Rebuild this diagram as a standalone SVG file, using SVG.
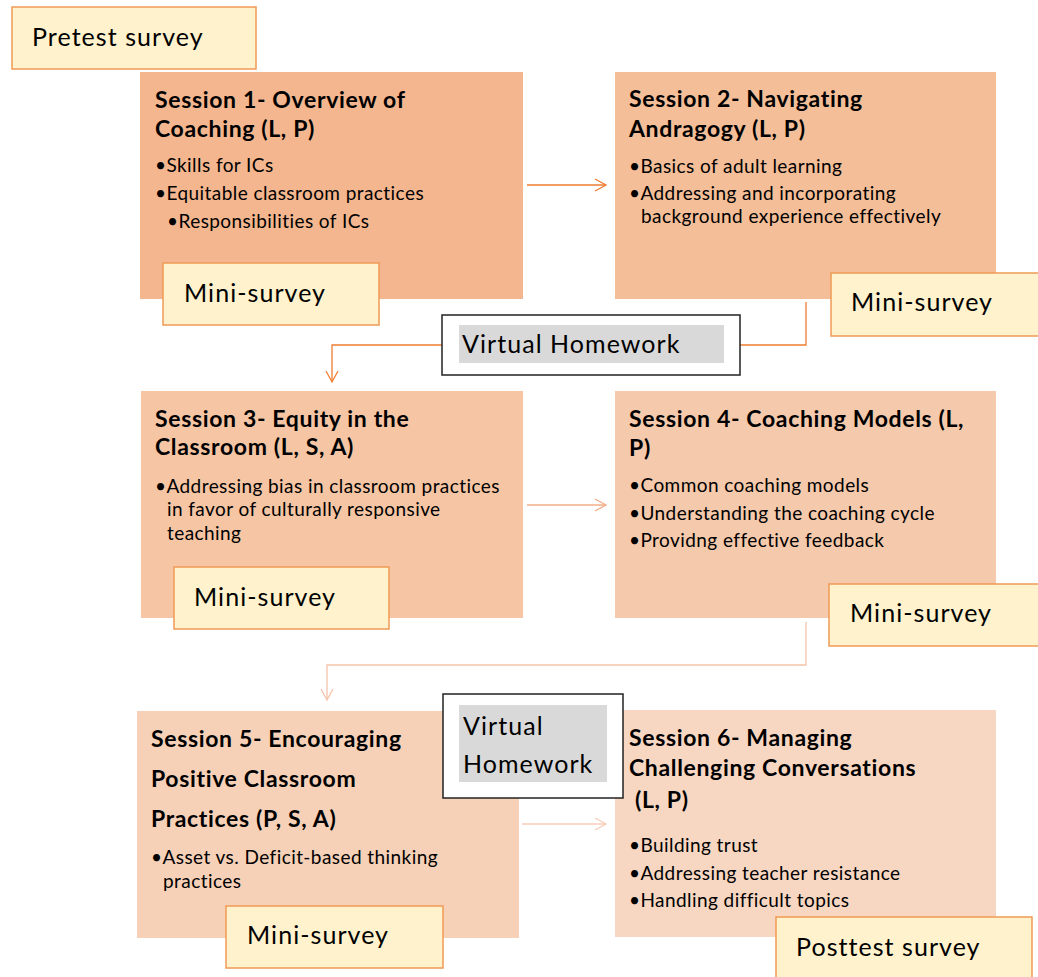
<svg xmlns="http://www.w3.org/2000/svg" width="1038" height="977" viewBox="0 0 1038 977">
  <style>
    text { font-family: Lato, "Noto Sans", "Liberation Sans", sans-serif; fill: #000; }
    .title { font-size: 23px; font-weight: bold; letter-spacing: 0.65px; }
    .item { font-size: 19px; letter-spacing: 0.43px; }
    .label { font-size: 25px; letter-spacing: 1.05px; }
    .survey { fill: #FFF2CC; stroke: #F09A55; stroke-width: 1.5; }
    .hw { fill: #FFFFFF; stroke: #222; stroke-width: 1.5; }
    .hwfill { fill: #D9D9D9; }
    .conn { fill: none; stroke-width: 1.3; }
  </style>
  <defs>
    <marker id="openArrow" markerWidth="14" markerHeight="14" refX="12" refY="7" orient="auto" markerUnits="userSpaceOnUse">
      <path d="M1,1 L12,7 L1,13" fill="none" stroke="context-stroke" stroke-width="1.3"/>
    </marker>
  </defs>

  <rect width="1038" height="977" fill="#FFFFFF"/>

  <!-- Pre-survey -->
  <g id="pretest">
    <rect class="survey" x="12" y="7" width="244" height="62"/>
    <text class="label" x="32" y="46">Pretest survey</text>
  </g>

  <!-- Session 1 -->
  <g id="session1">
    <rect x="140" y="72" width="383" height="227" fill="#F4B68E"/>
    <text class="title" x="155" y="108">Session 1- Overview of</text>
    <text class="title" x="155" y="137">Coaching (L, P)</text>
    <text class="item" x="155" y="172">•Skills for ICs</text>
    <text class="item" x="155" y="200">•Equitable classroom practices</text>
    <text class="item" x="167" y="228">•Responsibilities of ICs</text>
  </g>
  <g id="survey1">
    <rect class="survey" x="163" y="263" width="216" height="62"/>
    <text class="label" x="184" y="302">Mini-survey</text>
  </g>

  <!-- Session 2 -->
  <g id="session2">
    <rect x="615" y="72" width="381" height="227" fill="#F4BE98"/>
    <text class="title" x="629" y="107">Session 2- Navigating</text>
    <text class="title" x="629" y="137">Andragogy (L, P)</text>
    <text class="item" x="629" y="173">•Basics of adult learning</text>
    <text class="item" x="629" y="200">•Addressing and incorporating</text>
    <text class="item" x="641" y="223">background experience effectively</text>
  </g>
  <g id="survey2">
    <rect class="survey" x="831" y="273" width="215" height="63"/>
    <text class="label" x="851" y="311">Mini-survey</text>
  </g>

  <!-- Session 3 -->
  <g id="session3">
    <rect x="141" y="391" width="382" height="227" fill="#F5C5A4"/>
    <text class="title" x="155" y="427">Session 3- Equity in the</text>
    <text class="title" x="155" y="455">Classroom (L, S, A)</text>
    <text class="item" x="155" y="493">•Addressing bias in classroom practices</text>
    <text class="item" x="167" y="516">in favor of culturally responsive</text>
    <text class="item" x="167" y="540">teaching</text>
  </g>
  <g id="survey3">
    <rect class="survey" x="174" y="567" width="215" height="62"/>
    <text class="label" x="194" y="606">Mini-survey</text>
  </g>

  <!-- Session 4 -->
  <g id="session4">
    <rect x="615" y="391" width="381" height="227" fill="#F5C9AB"/>
    <text class="title" x="629" y="427">Session 4- Coaching Models (L,</text>
    <text class="title" x="629" y="456">P)</text>
    <text class="item" x="629" y="492">•Common coaching models</text>
    <text class="item" x="629" y="520">•Understanding the coaching cycle</text>
    <text class="item" x="629" y="547">•Providng effective feedback</text>
  </g>
  <g id="survey4">
    <rect class="survey" x="829" y="584" width="217" height="62"/>
    <text class="label" x="850" y="622">Mini-survey</text>
  </g>

  <!-- Session 5 -->
  <g id="session5">
    <rect x="137" y="711" width="382" height="227" fill="#F6D1B7"/>
    <text class="title" x="151" y="747">Session 5- Encouraging</text>
    <text class="title" x="151" y="787">Positive Classroom</text>
    <text class="title" x="151" y="827">Practices (P, S, A)</text>
    <text class="item" x="151" y="864">•Asset vs. Deficit-based thinking</text>
    <text class="item" x="163" y="888">practices</text>
  </g>
  <g id="survey5">
    <rect class="survey" x="226" y="906" width="217" height="62"/>
    <text class="label" x="247" y="944">Mini-survey</text>
  </g>

  <!-- Session 6 -->
  <g id="session6">
    <rect x="615" y="710" width="381" height="227" fill="#F7D7C2"/>
    <text class="title" x="629" y="746">Session 6- Managing</text>
    <text class="title" x="629" y="776">Challenging Conversations</text>
    <text class="title" x="635" y="808">(L, P)</text>
    <text class="item" x="629" y="852">•Building trust</text>
    <text class="item" x="629" y="880">•Addressing teacher resistance</text>
    <text class="item" x="629" y="907">•Handling difficult topics</text>
  </g>
  <g id="posttest">
    <rect class="survey" x="776" y="917" width="256" height="70"/>
    <text class="label" x="796" y="956">Posttest survey</text>
  </g>

  <!-- Connectors -->
  <g id="connectors">
    <line class="conn" x1="527" y1="185" x2="606" y2="185" stroke="#ED7D31" marker-end="url(#openArrow)"/>
    <polyline class="conn" points="806,302 806,345 740,345" stroke="#ED7D31"/>
    <polyline class="conn" points="442,345 332,345 332,382" stroke="#ED7D31" marker-end="url(#openArrow)"/>
    <line class="conn" x1="527" y1="505" x2="606" y2="505" stroke="#F2AE88" marker-end="url(#openArrow)"/>
    <polyline class="conn" points="806,622 806,665 327,665 327,700" stroke="#F5C3A8" marker-end="url(#openArrow)"/>
    <line class="conn" x1="522" y1="824" x2="606" y2="824" stroke="#F8CDB8" marker-end="url(#openArrow)"/>
  </g>

  <!-- Homework boxes -->
  <g id="homework1">
    <rect class="hw" x="442" y="315" width="298" height="60"/>
    <rect class="hwfill" x="459" y="325" width="265" height="38"/>
    <text class="label" x="462" y="353">Virtual Homework</text>
  </g>
  <g id="homework2">
    <rect class="hw" x="443" y="694" width="180" height="104"/>
    <rect class="hwfill" x="459" y="705" width="148" height="77"/>
    <text class="label" x="463" y="735">Virtual</text>
    <text class="label" x="463" y="773">Homework</text>
  </g>
</svg>
